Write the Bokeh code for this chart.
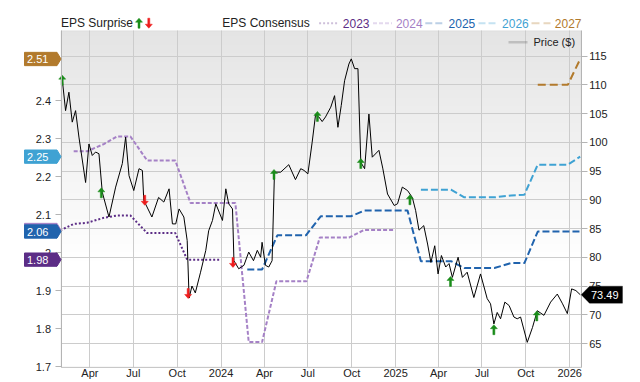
import numpy as np
import pandas as pd
from bokeh.plotting import figure
from bokeh.models import (Range1d, LinearAxis, FixedTicker, MonthsTicker,
                          CustomJSTickFormatter, Label, PolyAnnotation, BoxAnnotation)
from bokeh.embed import file_html
from bokeh.resources import INLINE

# ---------------- data ----------------
price_dates = [
    "2023-02-02", "2023-02-09", "2023-02-16", "2023-02-23", "2023-03-02", "2023-03-09", "2023-03-23", "2023-03-30",
    "2023-04-06", "2023-04-13", "2023-04-20", "2023-04-27", "2023-05-11", "2023-05-25", "2023-06-08", "2023-06-15",
    "2023-06-22", "2023-07-02", "2023-07-13", "2023-07-20", "2023-07-23", "2023-08-09", "2023-08-23", "2023-09-03",
    "2023-09-14", "2023-09-21", "2023-09-28", "2023-10-05", "2023-10-15", "2023-10-22", "2023-10-26", "2023-11-01",
    "2023-11-08", "2023-11-19", "2023-11-30", "2023-12-06", "2023-12-14", "2023-12-21", "2024-01-04", "2024-01-11",
    "2024-01-17", "2024-01-25", "2024-01-28", "2024-02-07", "2024-02-18", "2024-02-28", "2024-03-09", "2024-03-17",
    "2024-03-24", "2024-03-27", "2024-04-03", "2024-04-10", "2024-04-17", "2024-04-22", "2024-05-05", "2024-05-22",
    "2024-06-05", "2024-06-16", "2024-06-23", "2024-07-01", "2024-07-10", "2024-07-17", "2024-07-24", "2024-07-31",
    "2024-08-07", "2024-08-18", "2024-08-26", "2024-09-02", "2024-09-09", "2024-09-16", "2024-09-25", "2024-09-30",
    "2024-10-07", "2024-10-14", "2024-10-20", "2024-10-28", "2024-11-06", "2024-11-13", "2024-11-27", "2024-12-05",
    "2024-12-15", "2024-12-29", "2025-01-05", "2025-01-15", "2025-01-26", "2025-02-05", "2025-02-12", "2025-02-19",
    "2025-03-01", "2025-03-09", "2025-03-16", "2025-03-24", "2025-03-31", "2025-04-07", "2025-04-16", "2025-04-23",
    "2025-04-30", "2025-05-12", "2025-05-21", "2025-05-31", "2025-06-14", "2025-06-28", "2025-07-12", "2025-07-19",
    "2025-07-26", "2025-08-02", "2025-08-09", "2025-08-18", "2025-08-27", "2025-09-06", "2025-09-13", "2025-09-20",
    "2025-10-04", "2025-10-15", "2025-10-25", "2025-11-08", "2025-11-22", "2025-12-06", "2025-12-17", "2025-12-27",
    "2026-01-05", "2026-01-14", "2026-01-23",
]
price_values = [
    111.0, 105.5, 108.7, 103.5, 105.5, 100.9, 93.0, 99.7,
    97.7, 98.3, 98.0, 91.3, 87.0, 92.2, 96.3, 100.9,
    94.2, 91.6, 95.4, 95.1, 89.9, 87.0, 90.4, 89.6,
    91.9, 85.8, 85.8, 88.4, 87.0, 82.9, 72.9, 75.0,
    73.8, 77.4, 81.2, 84.6, 86.4, 89.3, 86.4, 91.9,
    89.3, 88.4, 79.4, 78.0, 78.6, 80.9, 79.4, 81.2,
    80.0, 82.6, 78.6, 78.3, 79.4, 94.8, 94.8, 96.1,
    93.5, 95.4, 95.1, 94.5, 100.0, 104.7, 104.4, 103.6,
    104.4, 106.1, 108.1, 102.6, 106.4, 110.7, 113.6, 114.5,
    112.8, 112.8, 96.5, 95.4, 104.9, 97.4, 98.6, 95.5,
    91.0, 89.0, 89.3, 92.2, 91.6, 90.4, 88.1, 84.7,
    85.5, 82.3, 79.1, 82.0, 77.1, 80.3, 78.3, 78.9,
    76.5, 80.0, 76.5, 77.4, 73.0, 77.1, 72.8, 71.9,
    68.4, 70.4, 69.3, 72.2, 71.6, 69.6, 69.3, 69.6,
    65.2, 67.8, 70.7, 69.9, 72.2, 73.6, 71.9, 70.2,
    74.5, 74.2, 73.49,
]

surprise_dates = ["2023-02-02", "2023-04-25", "2023-07-25", "2023-10-24", "2024-01-26", "2024-04-21",
                  "2024-07-21", "2024-10-20", "2025-01-31", "2025-04-26", "2025-07-26", "2025-10-24"]
surprise_prices = [110.8, 91.2, 89.9, 73.7, 79.1, 94.4, 104.5, 96.3, 90.0, 75.8, 67.4, 69.8]
surprise_beat = [True, True, False, False, False, True, True, True, True, True, True, True]

eps_2023_dates = ["2023-01-29", "2023-02-26", "2023-03-26", "2023-04-30", "2023-05-28", "2023-06-25",
                  "2023-07-30", "2023-08-27", "2023-09-27", "2023-10-22", "2023-11-26", "2023-12-28"]
eps_2023_values = [2.059, 2.076, 2.079, 2.092, 2.098, 2.098, 2.052, 2.052, 2.052, 1.982, 1.982, 1.982]

eps_2024_dates = ["2023-02-26", "2023-03-26", "2023-04-30", "2023-05-28", "2023-06-25", "2023-07-30",
                  "2023-08-27", "2023-09-27", "2023-10-29", "2023-11-26", "2023-12-31", "2024-01-31",
                  "2024-02-28", "2024-03-27", "2024-04-26", "2024-05-26", "2024-06-28", "2024-07-26",
                  "2024-08-25", "2024-09-25", "2024-10-27", "2024-11-24", "2024-12-29"]
eps_2024_values = [2.267, 2.267, 2.286, 2.306, 2.306, 2.243, 2.243, 2.243, 2.131, 2.131, 2.131, 2.131,
                   1.765, 1.765, 1.925, 1.925, 1.925, 2.040, 2.040, 2.040, 2.060, 2.060, 2.060]

eps_2025_dates = ["2024-02-25", "2024-03-27", "2024-04-28", "2024-05-26", "2024-06-27", "2024-07-28",
                  "2024-08-25", "2024-09-29", "2024-10-27", "2024-11-24", "2024-12-29", "2025-01-26",
                  "2025-02-23", "2025-03-30", "2025-04-27", "2025-05-25", "2025-06-29", "2025-07-27",
                  "2025-08-31", "2025-09-28", "2025-10-26", "2025-11-30", "2025-12-28", "2026-01-23"]
eps_2025_values = [1.956, 1.956, 2.046, 2.046, 2.046, 2.096, 2.096, 2.096, 2.111, 2.111, 2.111, 2.111,
                   1.978, 1.978, 1.978, 1.960, 1.960, 1.960, 1.973, 1.973, 2.056, 2.056, 2.056, 2.056]

eps_2026_dates = ["2025-02-23", "2025-03-30", "2025-04-27", "2025-05-25", "2025-06-29", "2025-07-27",
                  "2025-08-31", "2025-09-28", "2025-10-26", "2025-11-30", "2025-12-28", "2026-01-23"]
eps_2026_values = [2.166, 2.166, 2.166, 2.146, 2.146, 2.146, 2.151, 2.153, 2.232, 2.232, 2.232, 2.253]

eps_2027_dates = ["2025-10-26", "2025-11-30", "2025-12-28", "2026-01-23"]
eps_2027_values = [2.442, 2.442, 2.442, 2.510]

eps_years = ["2023", "2024", "2025", "2026", "2027"]
eps_colors = ["#5c2d86", "#a581c6", "#2063ad", "#3fa2d3", "#b27a2c"]
eps_dashes = ["2 2", "4 2", "7 3", "7 3", "8 4"]
eps_tag_labels = ["1.98", "2.06", "2.06", "2.25", "2.51"]

price_ticks = [65, 70, 75, 80, 85, 90, 95, 100, 105, 110, 115]
eps_ticks = [1.7, 1.8, 1.9, 2.0, 2.1, 2.2, 2.3, 2.4]

# ---------------- layout (canvas pixels) ----------------
W, H = 640, 382
VL, VR, VT, VB = 60.5, 580.7, 30.3, 366.5      # plotting box inside the canvas
FONT = "Liberation Sans"

x0_ms = pd.Timestamp("2023-01-30 10:00").value / 1e6
x1_ms = pd.Timestamp("2026-01-25 02:00").value / 1e6
PR_SCALE, EP_SCALE = 5.75, 380.0               # px per price unit / per EPS unit
p_hi = 115 + (55.5 - VT) / PR_SCALE
p_lo = 65 - (VB - 343.0) / PR_SCALE
e_hi = 2.4 + (100.3 - VT) / EP_SCALE
e_lo = 1.7 - (VB - 366.3) / EP_SCALE

ms_px = (x1_ms - x0_ms) / (VR - VL)
pr_px = 1.0 / PR_SCALE
ep_px = 1.0 / EP_SCALE

xs_full, xe_full = x0_ms - VL * ms_px, x1_ms + (W - VR) * ms_px
ps_full, pe_full = p_lo - (H - VB) * pr_px, p_hi + VT * pr_px
es_full, ee_full = e_lo - (H - VB) * ep_px, e_hi + VT * ep_px


def xd(px):
    return xs_full + px * ms_px


def eps_to_price(v):
    return ps_full + (v - es_full) * (pe_full - ps_full) / (ee_full - es_full)


p = figure(width=W, height=H, x_axis_type="datetime", title=None,
           x_range=Range1d(xs_full, xe_full), y_range=Range1d(ps_full, pe_full),
           y_axis_location="right", output_backend="svg", toolbar_location=None, min_border=0)
p.extra_y_ranges = {"eps": Range1d(es_full, ee_full)}
p.outline_line_color = None
p.background_fill_color = "white"
p.border_fill_color = "white"

# background gradient of the plotting box
n = 120
grad = np.zeros((n, 1), dtype=np.uint32)
view = grad.view(dtype=np.uint8).reshape((n, 1, 4))
for i in range(n):
    t = i / (n - 1)
    g = int(round(255 - max(0.0, (t - 0.3) / 0.7) * (255 - 228)))
    view[i, 0, :] = [g, g, g, 255]
p.image_rgba(image=[grad], x=x0_ms, y=p_lo, dw=x1_ms - x0_ms, dh=p_hi - p_lo, level="image")

# axes
ax_r = p.yaxis[0]
ax_r.ticker = FixedTicker(ticks=price_ticks)
ax_r.fixed_location = x1_ms
ax_r.bounds = (p_lo, p_hi)
ax_l = LinearAxis(y_range_name="eps", ticker=FixedTicker(ticks=eps_ticks), fixed_location=x0_ms,
                  bounds=(e_lo, e_hi),
                  formatter=CustomJSTickFormatter(code="return Number(tick.toFixed(2)).toString();"))
p.add_layout(ax_l, "left")
for ax, so in ((ax_r, 2), (ax_l, 4)):
    ax.major_tick_out = 6
    ax.major_tick_in = 0
    ax.minor_tick_out = 0
    ax.minor_tick_in = 0
    ax.axis_line_color = "#b4b4b4"
    ax.major_tick_line_color = "#b4b4b4"
    ax.major_label_text_font = FONT
    ax.major_label_text_font_size = "11px"
    ax.major_label_text_color = "#222222"
    ax.major_label_standoff = so

ax_b = p.xaxis[0]
ax_b.ticker = MonthsTicker(months=[0, 3, 6, 9])
ax_b.fixed_location = p_lo
ax_b.bounds = (x0_ms, x1_ms)
ax_b.formatter = CustomJSTickFormatter(code="""
const d = new Date(tick); const m = d.getUTCMonth();
const names = ['Jan','Feb','Mar','Apr','May','Jun','Jul','Aug','Sep','Oct','Nov','Dec'];
return m === 0 ? String(d.getUTCFullYear()) : names[m];""")
ax_b.major_tick_out = 0
ax_b.major_tick_in = 0
ax_b.minor_tick_out = 0
ax_b.minor_tick_in = 0
ax_b.axis_line_color = "#c8c8c8"
ax_b.major_label_text_font = FONT
ax_b.major_label_text_font_size = "11px"
ax_b.major_label_text_color = "#222222"
ax_b.major_label_standoff = 0

xg, yg = p.xgrid[0], p.ygrid[0]
xg.ticker = MonthsTicker(months=[0, 3, 6, 9])
xg.bounds = (x0_ms, x1_ms)
xg.cross_bounds = (p_lo, p_hi)
yg.ticker = FixedTicker(ticks=price_ticks)
yg.bounds = (p_lo, p_hi)
yg.cross_bounds = (x0_ms, x1_ms)
for g in (xg, yg):
    g.grid_line_color = "#cccccc"
    g.grid_line_width = 1

# box outline
p.add_layout(BoxAnnotation(left=x0_ms, right=x1_ms, bottom=p_lo, top=p_hi, fill_alpha=0,
                           line_color="#c8c8c8", line_width=1, level="underlay"))

# EPS consensus lines
eps_dates = [eps_2023_dates, eps_2024_dates, eps_2025_dates, eps_2026_dates, eps_2027_dates]
eps_values = [eps_2023_values, eps_2024_values, eps_2025_values, eps_2026_values, eps_2027_values]
for d, v, c, dash in zip(eps_dates, eps_values, eps_colors, eps_dashes):
    p.line(x=pd.to_datetime(d), y=v, y_range_name="eps", line_color=c, line_width=2, line_dash=dash)

# price line
p.line(x=pd.to_datetime(price_dates), y=price_values, line_color="black", line_width=1)

# EPS surprise arrows (arrow shape in pixels, anchored at each data point)
UP = [(0, -5), (3.5, -1), (1, -1), (1, 5), (-1, 5), (-1, -1), (-3.5, -1)]


def arrow(xc, yc, up, yunit):
    s = -1 if up else 1
    return ([xc + dx * ms_px for dx, dy in UP], [yc + s * dy * yunit for dx, dy in UP])


axs, ays, acs = [], [], []
for d, pr, b in zip(surprise_dates, surprise_prices, surprise_beat):
    xa, ya = arrow(pd.Timestamp(d).value / 1e6, pr, b, pr_px)
    axs.append(xa)
    ays.append(ya)
    acs.append("#1a8c1a" if b else "#ee1c1c")
p.patches(xs=axs, ys=ays, fill_color=acs, line_color=acs, line_width=0.5)

# left value tags (latest consensus per year); 2024 first so 2025 sits on top
for k in [1, 0, 2, 3, 4]:
    v = eps_to_price(eps_values[k][-1])
    c = eps_colors[k]
    h = 6.65 * pr_px
    xs = [xd(24), xd(56.5), xd(60.5), xd(56.5), xd(24)]
    ys = [v + h, v + h, v, v - h, v - h]
    p.add_layout(PolyAnnotation(xs=xs, ys=ys, fill_color=c, fill_alpha=1.0,
                                line_color=c, line_alpha=1.0))
    p.add_layout(Label(x=xd(26.5), y=v, text=eps_tag_labels[k],
                       text_color="white", text_font=FONT, text_font_size="11px",
                       text_align="left", text_baseline="middle"))

# right price tag
last_price = price_values[-1]
hp = 8.5 * pr_px
xs = [x1_ms, xd(589), xd(622), xd(622), xd(589)]
ys = [last_price, last_price + hp, last_price + hp, last_price - hp, last_price - hp]
p.add_layout(PolyAnnotation(xs=xs, ys=ys, fill_color="black", fill_alpha=1.0, line_color="black"))
p.add_layout(Label(x=xd(590.5), y=last_price, text=f"{last_price:.2f}", text_color="white",
                   text_font=FONT, text_font_size="11px", text_align="left", text_baseline="middle"))

# top legend
ly = p_hi + 7.6 * pr_px


def top_label(px, txt, color):
    p.add_layout(Label(x=xd(px), y=ly, text=txt, text_color=color, text_font=FONT,
                       text_font_size="12px", text_align="left", text_baseline="middle"))


top_label(60.5, "EPS Surprise", "#222222")
lxs, lys, lcs = [], [], []
for cx, up, col in ((138.5, True, "#1a8c1a"), (148.3, False, "#ee1c1c")):
    xa, ya = arrow(xd(cx), ly, up, pr_px)
    lxs.append(xa)
    lys.append(ya)
    lcs.append(col)
p.patches(xs=lxs, ys=lys, fill_color=lcs, line_color=lcs, line_width=0.5)
top_label(221.8, "EPS Consensus", "#222222")
sample_px = [318.6, 372.5, 424.8, 478.0, 531.0]
text_px = [342.3, 395.4, 448.1, 501.6, 554.3]
for yr, c, dash, sp, tp in zip(eps_years, eps_colors, eps_dashes, sample_px, text_px):
    p.add_layout(PolyAnnotation(xs=[xd(sp), xd(sp + 19)], ys=[ly, ly], fill_alpha=0,
                                line_color=c, line_width=2, line_dash=dash))
    top_label(tp, yr, c)

# price legend inside the box (top-right)
py = p_hi - 11.4 * pr_px
p.add_layout(PolyAnnotation(xs=[xd(508), xd(527)], ys=[py, py], fill_alpha=0,
                            line_color="#666666", line_width=2.5))
p.add_layout(Label(x=xd(533), y=py, text="Price ($)", text_color="#222222",
                   text_font=FONT, text_font_size="11px", text_align="left", text_baseline="middle"))

open("out.html", "w").write(file_html(p, INLINE))
